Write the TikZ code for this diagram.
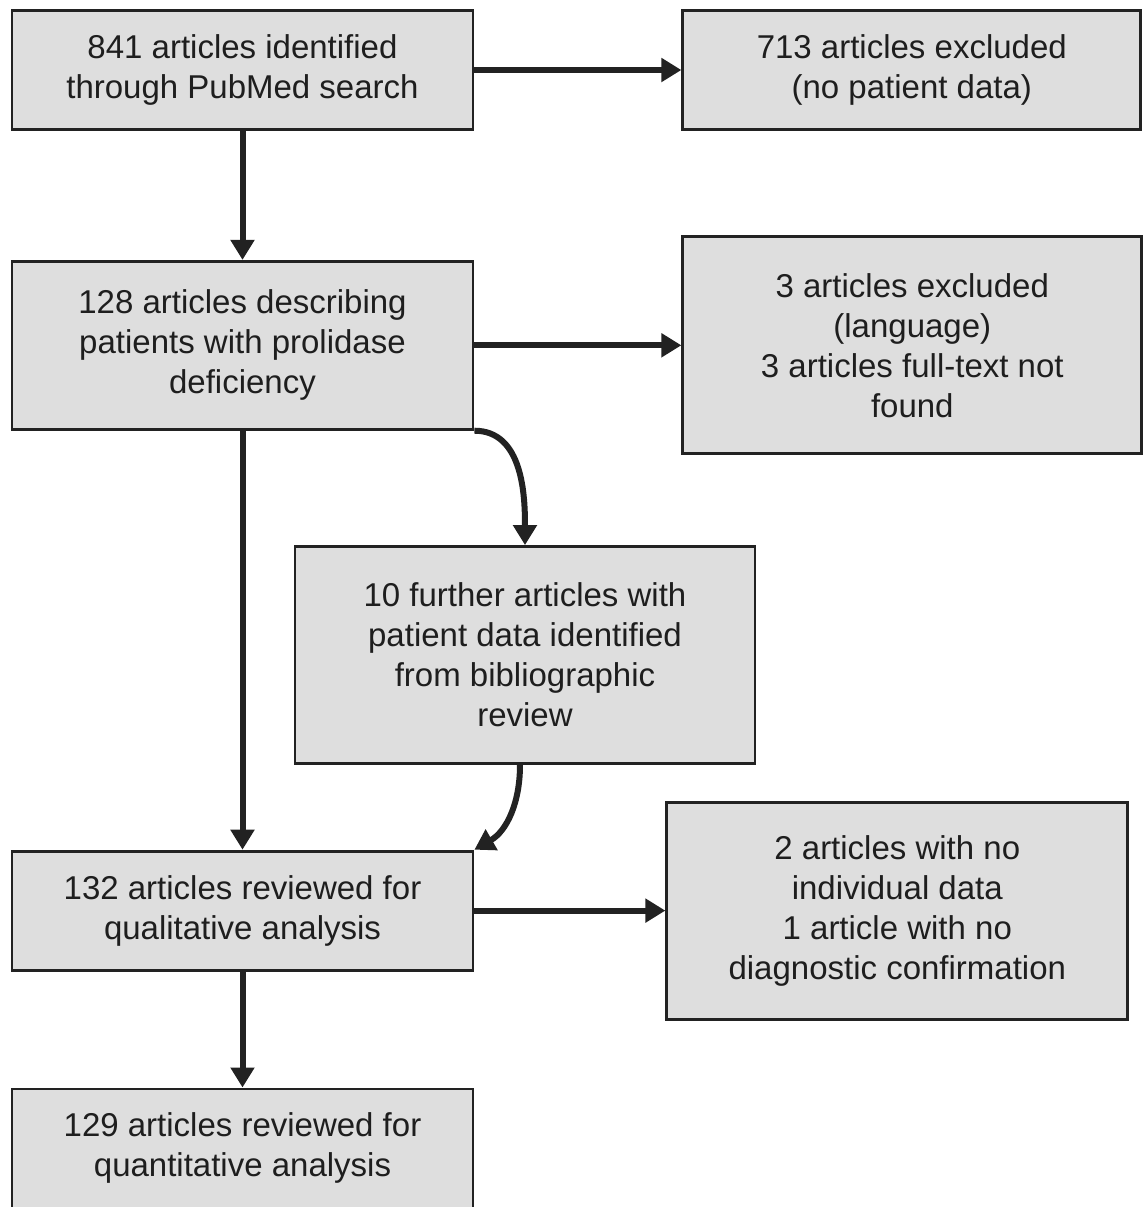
\documentclass[tikz,border=0pt]{standalone}
\usepackage{fontspec}
\setmainfont{Liberation Sans}
\usepackage{tikz}
\usetikzlibrary{arrows.meta,positioning}
\definecolor{boxfill}{HTML}{DEDEDE}
\definecolor{boxline}{HTML}{222222}
\definecolor{inkdark}{HTML}{1E1E1E}
\tikzset{
  % ---- boxes ----------------------------------------------------------
  pbox/.style={
    draw=boxline, line width=1.4pt, fill=boxfill, inner sep=0pt,
    minimum width=230.5pt, align=center, text=inkdark,
    font=\fontsize{16.5}{20}\selectfont},
  pshort/.style={pbox, minimum height=59.5pt},
  pmid/.style={pbox, minimum height=84pt},
  ptall/.style={pbox, minimum height=108.5pt},
  % ---- connections ----------------------------------------------------
  pflow/.style={
    -{Triangle[length=10pt,width=11.5pt]}, draw=boxline, line width=3pt},
}

\begin{document}
\begin{tikzpicture}[x=0.5pt,y=-0.5pt]
\useasboundingbox (0,0) rectangle (1144,1207);

% ---------------- main column ----------------------------------------
\node[pshort] (search) at (242.5,70)
  {841 articles identified\\through PubMed search};
\node[pmid, below=64.5pt of search] (prolidase)
  {128 articles describing\\patients with prolidase\\deficiency};
\node[pshort, below=209.5pt of prolidase] (qualit)
  {132 articles reviewed for\\qualitative analysis};
\node[pshort, below=58pt of qualit] (quantit)
  {129 articles reviewed for\\quantitative analysis};

% ---------------- exclusions -----------------------------------------
\node[pshort, minimum width=229pt, right=103.5pt of search] (nodata)
  {713 articles excluded\\(no patient data)};
\node[ptall, minimum width=229.5pt, right=103.5pt of prolidase] (language)
  {3 articles excluded\\(language)\\3 articles full-text not\\found};
\node[ptall, right=95.5pt of qualit] (noindiv)
  {2 articles with no\\individual data\\1 article with no\\diagnostic confirmation};

% ---------------- bibliographic review -------------------------------
\node[ptall, minimum width=230pt] (biblio) at (525,655)
  {10 further articles with\\patient data identified\\from bibliographic\\review};

% ---------------- arrows ---------------------------------------------
\draw[pflow] (search.east) -- (nodata.west);
\draw[pflow] (search.south) -- (prolidase.north);
\draw[pflow] (prolidase.east) -- (language.west);
\draw[pflow] (prolidase.south) -- (qualit.north);
\draw[pflow] (qualit.east) -- (noindiv.west);
\draw[pflow] (qualit.south) -- (quantit.north);

\draw[pflow] (prolidase.south east) to[out=0, in=90] (biblio.north);
\draw[pflow] ([xshift=-2.5pt]biblio.south) to[out=-90, in=30]
  (qualit.north east);

\end{tikzpicture}
\end{document}
